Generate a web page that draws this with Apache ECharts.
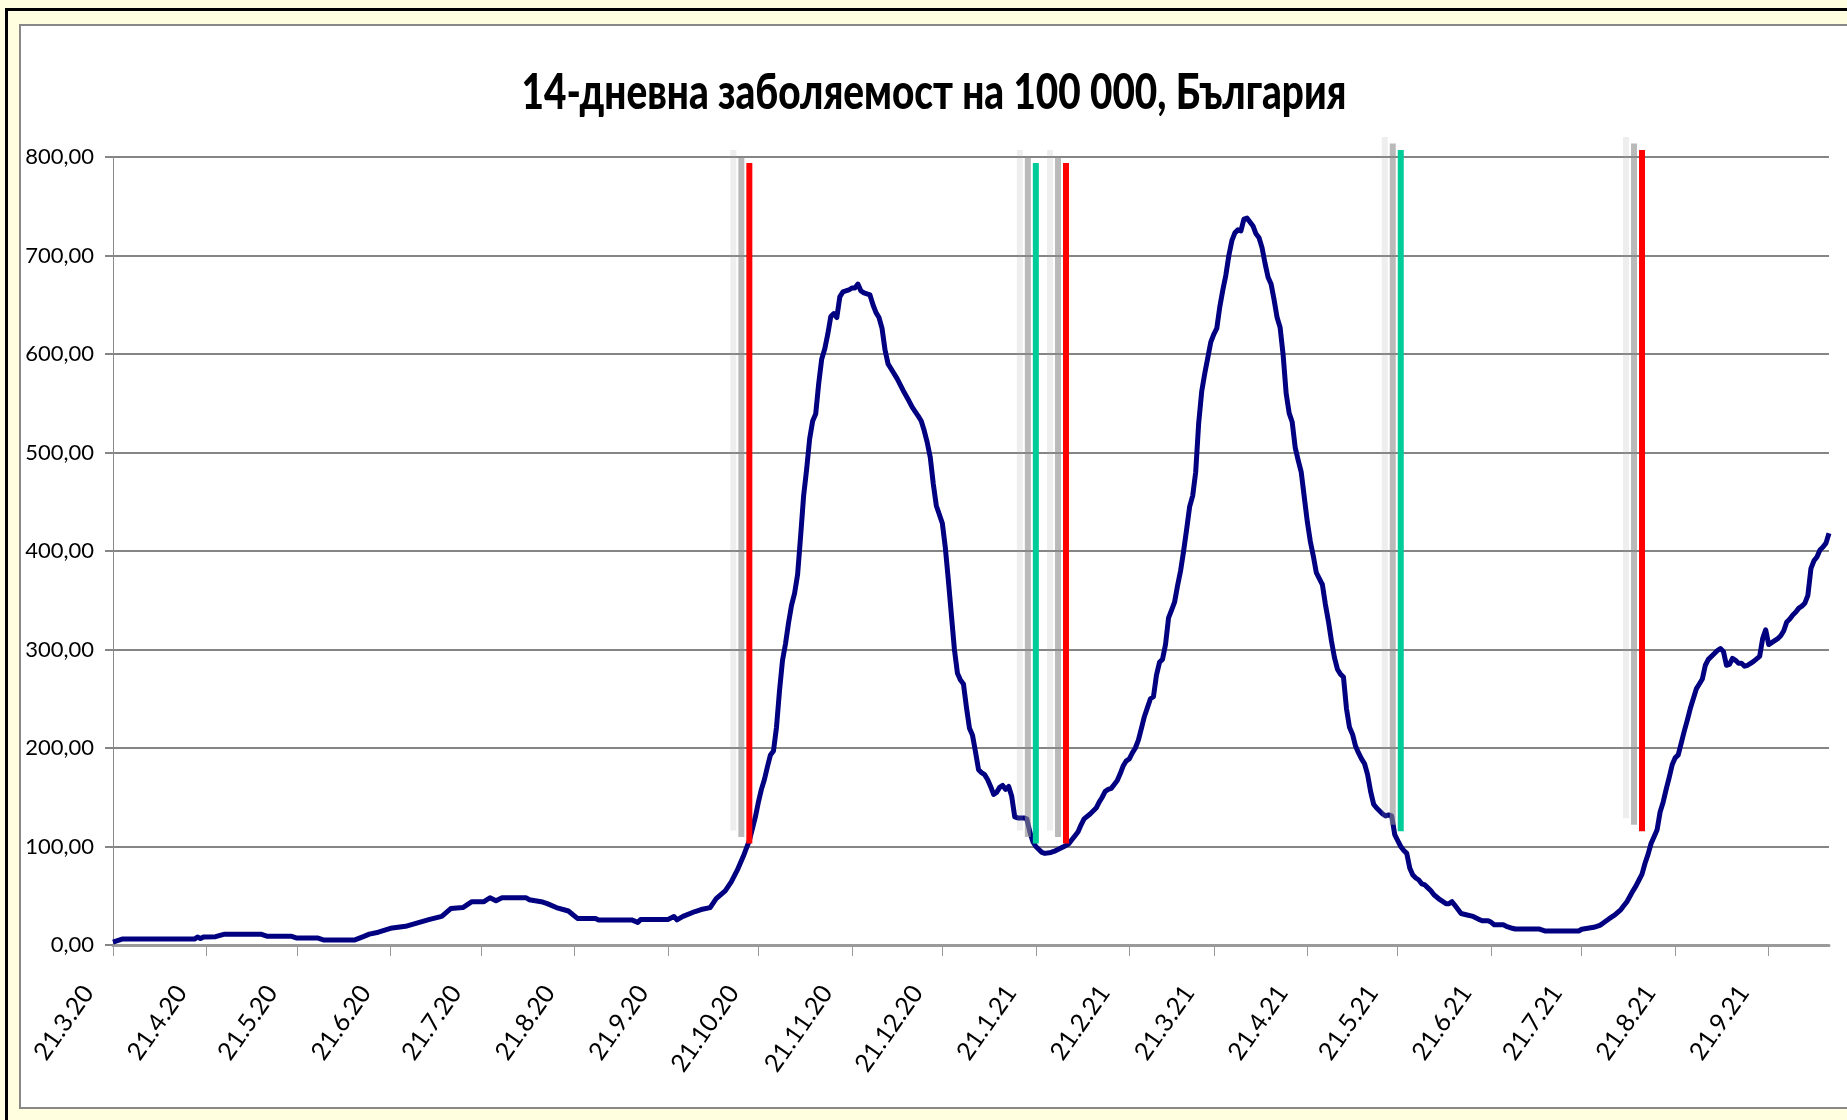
<!DOCTYPE html>
<html>
<head>
<meta charset="utf-8">
<title>14-дневна заболяемост</title>
<script src="https://cdn.jsdelivr.net/npm/echarts@6/dist/echarts.min.js"></script>
<style>
  html, body { margin: 0; padding: 0; background: #FFFFE0; }
  #chart { width: 1847px; height: 1120px; }
</style>
</head>
<body>
<div id="chart"></div>
<script>
// daily categories, 21.3.20 ... 11.10.21
const startDay = Date.UTC(2020, 2, 21)
const dayCount = 570
const categories = []
for (let i = 0; i < dayCount; i++) {
  const d = new Date(startDay + i * 86400000)
  categories.push(d.getUTCDate() + '.' + (d.getUTCMonth() + 1) + '.' + String(d.getUTCFullYear()).slice(2))
}

// labelled ticks on the date axis
const tickLabels = [
  '21.3.20', '21.4.20', '21.5.20', '21.6.20', '21.7.20', '21.8.20', '21.9.20',
  '21.10.20', '21.11.20', '21.12.20', '21.1.21', '21.2.21', '21.3.21', '21.4.21',
  '21.5.21', '21.6.21', '21.7.21', '21.8.21', '21.9.21'
]

// [day since 21.3.20, 14-day incidence per 100 000]
const incidence = [
  [0, 3], [3, 6], [27, 6], [28, 8], [29, 6.5], [30, 8], [34, 8.5], [37, 11], [49, 11], [51, 9],
  [59, 9], [61, 7], [68, 7], [70, 5], [80, 5], [83, 8.5], [85, 11], [88, 13], [92, 17], [97, 19],
  [101, 22.5], [105, 26], [109, 29], [112, 37], [116, 38], [119, 44], [123, 44], [125, 48], [127, 45], [129, 48],
  [137, 48], [138, 46], [142, 44], [144, 42], [147, 38], [151, 34.5], [154, 27], [160, 27], [161, 25.5], [172, 25.5],
  [174, 23], [175, 26], [184, 26], [186, 29], [187, 25.5], [189, 29], [193, 34], [195, 36], [198, 38], [200, 47],
  [203, 55], [205, 64], [207, 76], [209, 90], [210, 98],
  [211, 106], [212, 118], [213, 130], [214, 145], [215, 158], [216, 168], [217, 181], [218, 193], [219, 197], [220, 221],
  [221, 258], [222, 289], [223, 306], [224, 327], [225, 345], [226, 357], [227, 376], [228, 415], [229, 456], [230, 483],
  [231, 514], [232, 532], [233, 539], [234, 570], [235, 595], [236, 605], [237, 620], [238, 638], [239, 641], [240, 637],
  [241, 658], [242, 663], [244, 665], [245, 667], [246, 667], [247, 671], [248, 664], [249, 662], [251, 660], [252, 650],
  [253, 642], [254, 637], [255, 626], [256, 604], [257, 590], [258, 585], [260, 575], [262, 563], [264, 552], [265, 546],
  [267, 537], [268, 532], [269, 522], [270, 510], [271, 495], [272, 468], [273, 446], [274, 437], [275, 428], [276, 403],
  [277, 370], [278, 335], [279, 300], [280, 276], [281, 269], [282, 265], [283, 241], [284, 220], [285, 213], [286, 196],
  [287, 178], [288, 175], [289, 173], [290, 168], [291, 161], [292, 153], [293, 155], [294, 160], [295, 162], [296, 158],
  [297, 161], [298, 151], [299, 130], [300, 129], [302, 129], [303, 128], [304, 115], [305, 105], [306, 100], [307, 97],
  [308, 94], [309, 93], [311, 94], [312, 95], [314, 98], [316, 101], [317, 103], [318, 107], [319, 111], [320, 115],
  [321, 122], [322, 128], [324, 133], [325, 136], [326, 139], [327, 145], [328, 150], [329, 156], [330, 158], [331, 159],
  [332, 163], [333, 167], [334, 174], [335, 182], [336, 187], [337, 189], [338, 195], [339, 200], [340, 208], [341, 220],
  [342, 232], [343, 241], [344, 250], [345, 252], [346, 274], [347, 287], [348, 290], [349, 305], [350, 332], [351, 340],
  [352, 348], [353, 365], [354, 380], [355, 400], [356, 422], [357, 445], [358, 456], [359, 480], [360, 530], [361, 562],
  [362, 580], [363, 596], [364, 612], [365, 620], [366, 626], [367, 648], [368, 665], [369, 680], [370, 700], [371, 715],
  [372, 723], [373, 726], [374, 725], [375, 737], [376, 738], [377, 734], [378, 730], [379, 722], [380, 718], [381, 708],
  [382, 692], [383, 678], [384, 671], [385, 655], [386, 637], [387, 627], [388, 599], [389, 560], [390, 540], [391, 531],
  [392, 505], [393, 492], [394, 480], [395, 455], [396, 430], [397, 410], [398, 395], [399, 378], [400, 372], [401, 366],
  [402, 346], [403, 329], [404, 309], [405, 292], [406, 280], [407, 275], [408, 272], [409, 240], [410, 221], [411, 214],
  [412, 202], [413, 195], [414, 189], [415, 184], [416, 173], [417, 156], [418, 143], [419, 139], [420, 136], [421, 133],
  [422, 131], [423, 132], [424, 131], [425, 112], [426, 106], [427, 100], [428, 96], [429, 93], [430, 78], [431, 71],
  [432, 68], [433, 66], [434, 62], [435, 61], [436, 58], [437, 55], [438, 51], [440, 46], [442, 42], [443, 42],
  [444, 44], [445, 40], [446, 36], [447, 32], [449, 30.5], [451, 29], [453, 26], [454, 24.5], [456, 24.5], [457, 23],
  [458, 20.5], [461, 20.5], [462, 19], [464, 17], [465, 16.2], [473, 16.2], [475, 14.2], [486, 14.2], [487, 16], [489, 17],
  [491, 18], [493, 20], [494, 22], [496, 26.5], [498, 30.5], [500, 36], [501, 40], [502, 44], [504, 55], [505, 60],
  [506, 66], [507, 72], [508, 83], [509, 92], [510, 103], [511, 110], [512, 117], [513, 135], [514, 145], [515, 158],
  [516, 170], [517, 183], [518, 190], [519, 193], [520, 205], [521, 217], [522, 228], [523, 240], [524, 250], [525, 260],
  [526, 265], [527, 270], [528, 284], [529, 290], [531, 296], [532, 299], [533, 301], [534, 298], [535, 284], [536, 285],
  [537, 291], [538, 289], [539, 286], [540, 286], [541, 283], [542, 284], [543, 286], [544, 288], [546, 293], [547, 311],
  [548, 320], [549, 305], [550, 307], [551, 309], [552, 311], [553, 314], [554, 319], [555, 328], [556, 331], [557, 335],
  [558, 338], [559, 342], [560, 344], [561, 347], [562, 355], [563, 382], [564, 390], [565, 394], [566, 401], [567, 404],
  [568, 408], [569, 418]
]

// vertical markers (measures): day, bottom value, top value, colour
const markerDays = [211, 306, 316, 427, 507]
const markerLow = [103, 103, 103, 115.5, 115.5]
const markerHigh = [794, 794, 794, 807, 807]
const markerColors = ['#FF0000', '#00CC99', '#FF0000', '#00CC99', '#FF0000']

const yTicks = { min: 0, max: 800, step: 100 }

const titleText = '14-дневна заболяемост на 100 000, България'
const titleFont = '900 50px Lato, "Liberation Sans", sans-serif'
// squeeze the title to the width of the (condensed) original
const measureCtx = document.createElement('canvas').getContext('2d')
measureCtx.font = titleFont
const titleScale = 825 / measureCtx.measureText(titleText).width

const chart = echarts.init(document.getElementById('chart'), null, { renderer: 'canvas' })

const showTick = (idx, val) => tickLabels.indexOf(val) >= 0

chart.setOption({
  backgroundColor: '#FFFFE0',
  animation: false,
  graphic: [
    // black frame (left / top)
    { type: 'rect', z: -10, silent: true, shape: { x: 5, y: 8, width: 3, height: 1200 }, style: { fill: '#000' } },
    { type: 'rect', z: -10, silent: true, shape: { x: 5, y: 8, width: 1900, height: 3 }, style: { fill: '#000' } },
    // white plot panel
    { type: 'rect', z: -9, silent: true, shape: { x: 20, y: 25, width: 1900, height: 1083 },
      style: { fill: '#fff', stroke: '#888', lineWidth: 2 } },
    { type: 'text', z: 10, silent: true, x: 934, y: 93, scaleX: titleScale,
      style: {
        text: titleText,
        x: 0, y: 0, align: 'center', verticalAlign: 'middle',
        font: titleFont,
        fill: '#000'
      } }
  ],
  grid: { left: 113, right: 18, top: 157, bottom: 175, containLabel: false },
  xAxis: {
    type: 'category',
    data: categories,
    boundaryGap: false,
    axisLine: { lineStyle: { color: '#9a9a9a', width: 3 } },
    axisTick: { interval: showTick, length: 11, lineStyle: { color: '#9a9a9a', width: 1 } },
    axisLabel: {
      interval: showTick,
      rotate: 55,
      margin: 40,
      verticalAlign: 'bottom',
      padding: [0, 17, 6, 0],
      fontFamily: 'Lato, "Liberation Sans", sans-serif',
      fontSize: 25,
      color: '#000'
    },
    splitLine: { show: false }
  },
  yAxis: {
    type: 'value',
    min: yTicks.min,
    max: yTicks.max,
    interval: yTicks.step,
    axisLine: { show: true, lineStyle: { color: '#8a8a8a', width: 1 } },
    axisTick: { show: true, length: 8, lineStyle: { color: '#858585', width: 2 } },
    axisLabel: {
      margin: 19,
      fontFamily: 'Lato, "Liberation Sans", sans-serif',
      fontSize: 22,
      color: '#000',
      formatter: v => v.toFixed(2).replace('.', ',')
    },
    splitLine: { lineStyle: { color: '#858585', width: 2 } }
  },
  series: [
    {
      name: '14-дневна заболяемост',
      type: 'line',
      data: incidence,
      symbol: 'none',
      z: 2,
      lineStyle: { color: '#000080', width: 5, join: 'round' }
    },
    {
      name: 'мерки',
      type: 'custom',
      z: 5,
      data: markerDays.map((d, i) => [d, markerLow[i], markerHigh[i]]),
      encode: { x: 0, y: [1, 2] },
      renderItem: function (params, api) {
        const top = api.coord([api.value(0), api.value(2)])
        const bottom = api.coord([api.value(0), api.value(1)])
        const h = bottom[1] - top[1]
        const color = markerColors[params.dataIndex]
        return {
          type: 'group',
          children: [
            { type: 'rect', shape: { x: top[0] - 19, y: top[1] - 13, width: 6, height: h },
              style: { fill: 'rgba(160,160,160,0.18)' } },
            { type: 'rect', shape: { x: top[0] - 11, y: top[1] - 6.5, width: 6, height: h },
              style: { fill: 'rgba(140,140,140,0.6)' } },
            { type: 'rect', shape: { x: top[0] - 3, y: top[1], width: 6, height: h },
              style: { fill: color } }
          ]
        }
      }
    }
  ]
})
</script>
</body>
</html>
